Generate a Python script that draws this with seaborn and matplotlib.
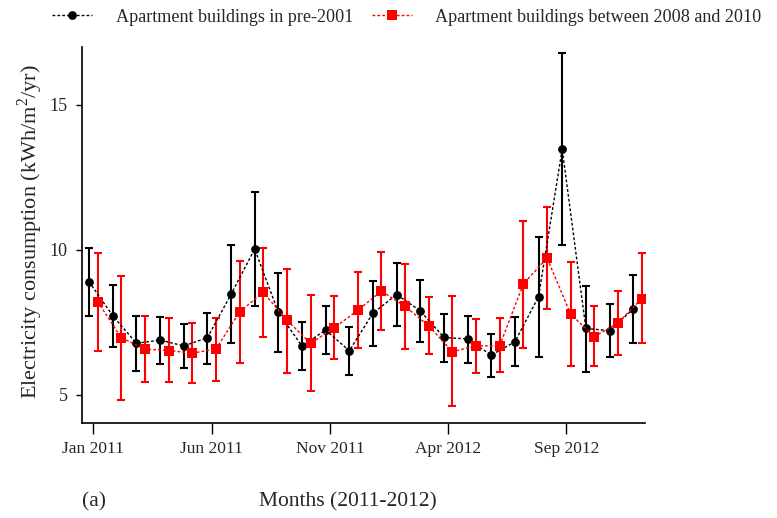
import matplotlib
matplotlib.use("Agg")
import matplotlib.pyplot as plt
import seaborn as sns
import numpy as np
import pandas as pd

months = ["Jan 2011", "Feb 2011", "Mar 2011", "Apr 2011", "May 2011", "Jun 2011",
          "Jul 2011", "Aug 2011", "Sep 2011", "Oct 2011", "Nov 2011", "Dec 2011",
          "Jan 2012", "Feb 2012", "Mar 2012", "Apr 2012", "May 2012", "Jun 2012",
          "Jul 2012", "Aug 2012", "Sep 2012", "Oct 2012", "Nov 2012", "Dec 2012"]
tick_labels = ["Jan 2011", "Jun 2011", "Nov 2011", "Apr 2012", "Sep 2012"]

old_mean = [8.90, 7.73, 6.78, 6.89, 6.69, 6.97, 8.47, 10.03, 7.85, 6.68, 7.24, 6.52,
            7.82, 8.46, 7.90, 6.98, 6.93, 6.37, 6.83, 8.39, 13.48, 7.29, 7.22, 7.96]
old_low = [7.72, 6.64, 5.83, 6.08, 5.92, 6.06, 6.78, 8.05, 6.49, 5.85, 6.41, 5.68,
           6.67, 7.36, 6.84, 6.14, 6.10, 5.63, 5.98, 6.32, 10.17, 5.79, 6.29, 6.78]
old_high = [10.08, 8.80, 7.71, 7.67, 7.45, 7.84, 10.18, 12.01, 9.22, 7.52, 8.07, 7.34,
            8.93, 9.56, 8.97, 7.79, 7.72, 7.10, 7.69, 10.46, 16.78, 8.76, 8.14, 9.14]

new_mean = [8.22, 6.97, 6.58, 6.53, 6.44, 6.58, 7.86, 8.54, 7.58, 6.78, 7.31, 7.92,
            8.58, 8.05, 7.38, 6.49, 6.69, 6.70, 8.83, 9.72, 7.78, 7.01, 7.48, 8.32]
new_low = [6.53, 4.84, 5.44, 5.43, 5.40, 5.48, 6.11, 7.01, 5.77, 5.14, 6.23, 6.61,
           7.24, 6.59, 6.41, 4.62, 5.75, 5.78, 6.63, 7.97, 5.98, 5.98, 6.37, 6.80]
new_high = [9.89, 9.10, 7.73, 7.66, 7.49, 7.64, 9.62, 10.06, 9.34, 8.44, 8.41, 9.23,
            9.93, 9.51, 8.38, 8.41, 7.62, 7.64, 11.01, 11.48, 9.60, 8.05, 8.59, 9.89]

label_old = "Apartment buildings in pre-2001"
label_new = "Apartment buildings between 2008 and 2010"

sns.set_style("ticks")
plt.rcParams['font.family'] = ['Liberation Serif', 'DejaVu Serif']
plt.rcParams['mathtext.fontset'] = 'custom'
plt.rcParams['mathtext.rm'] = 'Liberation Serif'

idx = np.arange(len(months))
off = 0.18
df_old = pd.DataFrame({"x": idx - off, "y": old_mean})
df_new = pd.DataFrame({"x": idx + off, "y": new_mean})

fig = plt.figure(figsize=(7.77, 5.18), dpi=100)
ax = fig.add_axes([82/777, 95/518, 563/777, 376/518])

ax.errorbar(df_old["x"], old_mean,
            yerr=[np.array(old_mean) - np.array(old_low), np.array(old_high) - np.array(old_mean)],
            fmt="none", ecolor="black", elinewidth=1.5, capsize=2.8, capthick=1.5, zorder=2)
ax.errorbar(df_new["x"], new_mean,
            yerr=[np.array(new_mean) - np.array(new_low), np.array(new_high) - np.array(new_mean)],
            fmt="none", ecolor="red", elinewidth=1.5, capsize=2.8, capthick=1.5, zorder=2)

sns.lineplot(data=df_old, x="x", y="y", ax=ax, color="black", linestyle=(0, (2, 1.5)),
             linewidth=1.0, marker="o", markersize=6.3, markeredgewidth=0,
             markerfacecolor="black", label=label_old, zorder=3)
sns.lineplot(data=df_new, x="x", y="y", ax=ax, color="red", linestyle=(0, (2, 1.5)),
             linewidth=1.0, marker="s", markersize=6.7, markeredgewidth=0,
             markerfacecolor="red", label=label_new, zorder=3)

ax.set_xlim(-0.48, 23.32)
ax.set_ylim(4.03, 17.0)
tick_pos = [months.index(t) for t in tick_labels]
ax.set_xticks(tick_pos)
ax.set_xticklabels(tick_labels, fontsize=12.5)
ax.set_yticks([5, 10, 15])
ax.set_yticklabels(["5", "10", "15"], fontsize=13)
ax.tick_params(axis="y", direction="out", length=4.5, width=1, color="black", pad=6)
ax.tick_params(axis="x", direction="out", length=8, width=1, color="black", pad=5)
for s in ["top", "right"]:
    ax.spines[s].set_visible(False)
for s in ["left", "bottom"]:
    ax.spines[s].set_linewidth(1.2)
    ax.spines[s].set_color("black")

ax.set_xlabel("")
ax.set_ylabel("Electricity consumption (kWh/m$^{2}$/yr)", fontsize=16)
ax.yaxis.set_label_coords((45 - 82) / 563, 0.51)
fig.text(348/777, 1 - 502/518, "Months (2011-2012)", fontsize=15.5, ha="center", va="center")
fig.text(82/777, 1 - 502/518, "(a)", fontsize=15.5, ha="left", va="center")

handles, labels = ax.get_legend_handles_labels()
ax.legend_.remove()
fig.legend(handles, labels, loc="center", bbox_to_anchor=(407/777, 1 - 17/518), ncol=2,
           frameon=False, fontsize=13.1, handlelength=2.2, columnspacing=1.0, handletextpad=1.3)

fig.savefig("out.png", dpi=100)
